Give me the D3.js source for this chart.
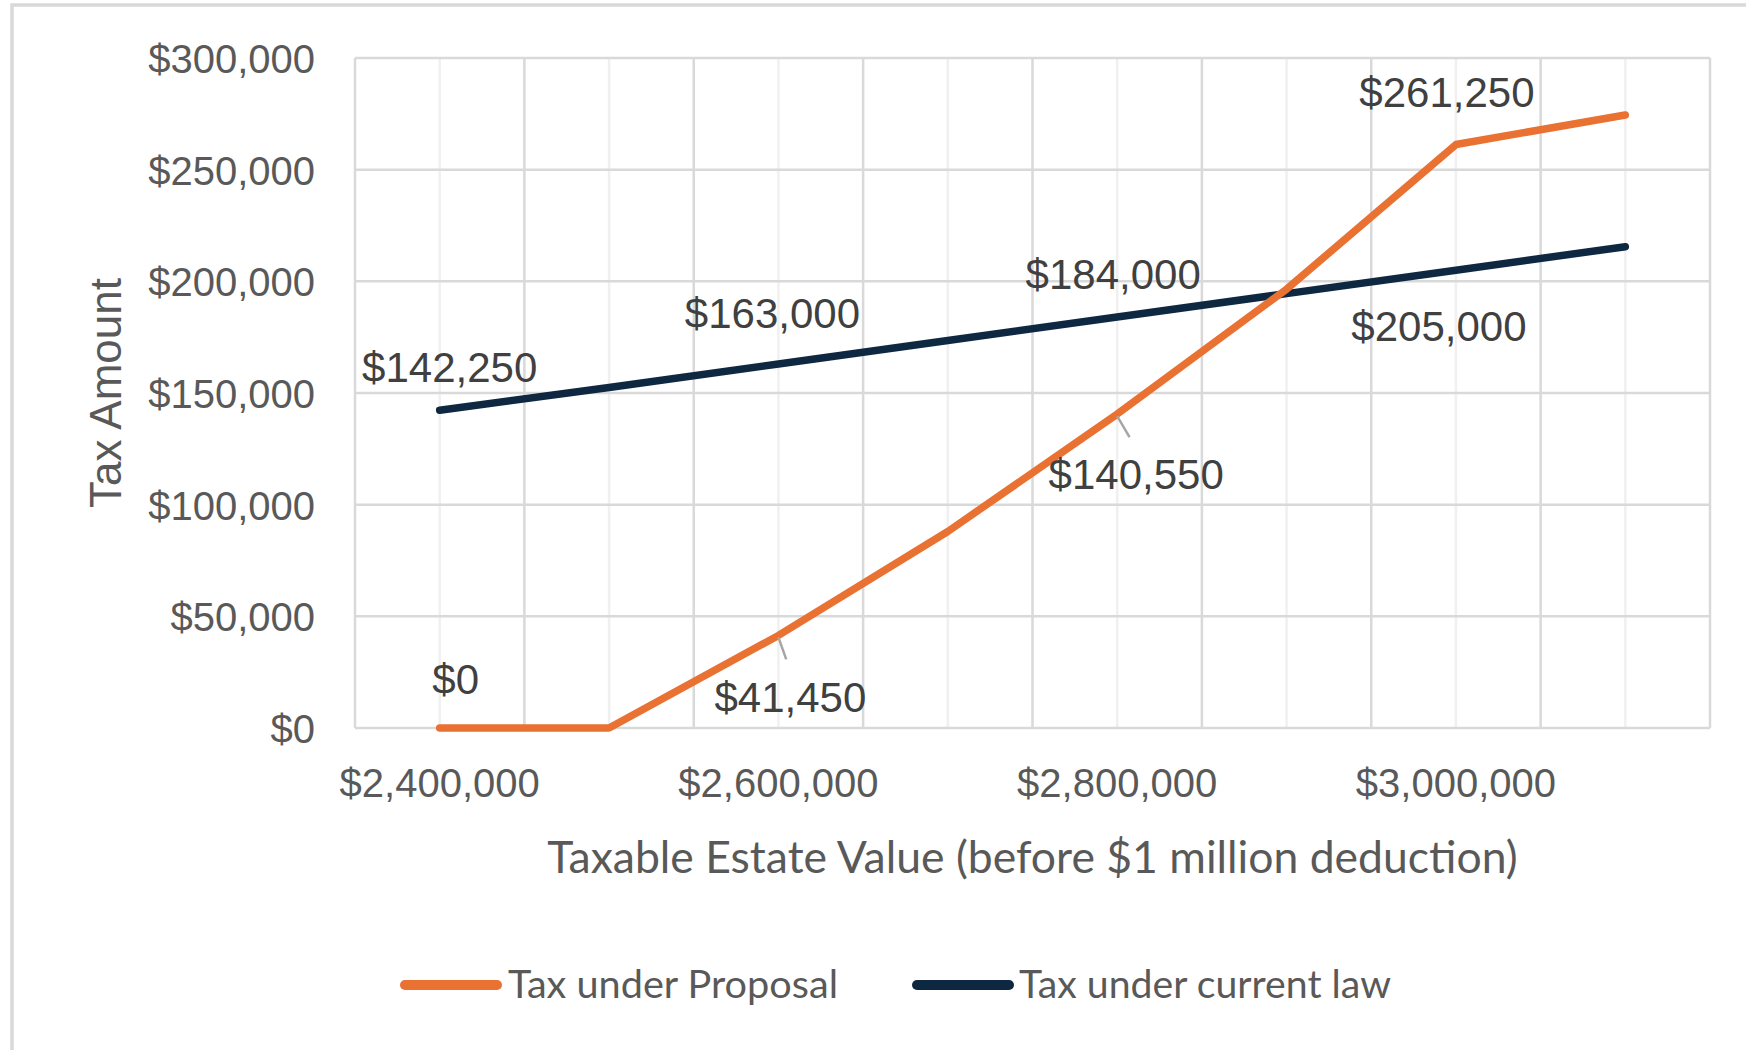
<!DOCTYPE html>
<html>
<head>
<meta charset="utf-8">
<script src="https://cdn.jsdelivr.net/npm/d3@7/dist/d3.min.js"></script>
<style>
  html, body { margin: 0; padding: 0; background: #ffffff; }
  svg { display: block; }
</style>
</head>
<body>
<svg id="chart" width="1746" height="1050"></svg>
<script>
// Estate values (categories on the x axis)
const estateValues = [2400000, 2500000, 2600000, 2700000, 2800000, 2900000, 3000000, 3100000];
// Tax owed under the proposal
const taxProposal = [0, 0, 41450, 88000, 140550, 196500, 261250, 274500];
// Tax owed under current law
const taxCurrent = [142250, 152500, 163000, 173500, 184000, 194500, 205000, 215500];
// Y axis tick values
const yTicks = [0, 50000, 100000, 150000, 200000, 250000, 300000];
// X axis labelled categories
const xLabelled = [2400000, 2600000, 2800000, 3000000];
// Series names
const seriesNames = ["Tax under Proposal", "Tax under current law"];
const seriesColors = ["#E97132", "#0E2841"];

// Data label placement: category index, label offset from the point, optional leader line
const proposalLabels = [
  { i: 0, dx: 16, dy: -49, leader: false },
  { i: 2, dx: 12, dy: 61, leader: true },
  { i: 4, dx: 19, dy: 60, leader: true },
  { i: 6, dx: -9, dy: -53, leader: false }
];
const currentLabels = [
  { i: 0, dx: 10, dy: -43, leader: false },
  { i: 2, dx: -6, dy: -51, leader: false },
  { i: 4, dx: -4, dy: -43, leader: false },
  { i: 6, dx: -17, dy: 56, leader: false }
];

const svg = d3.select("#chart");
const W = 1746, H = 1050;
const plot = { left: 355, right: 1710, top: 58, bottom: 728 };
const numFont = "'Liberation Sans', Arial, sans-serif";
const titleFont = "Lato, 'Open Sans', sans-serif";

svg.append("rect").attr("width", W).attr("height", H).attr("fill", "#ffffff");

// chart frame
svg.append("rect")
  .attr("x", 12).attr("y", 5)
  .attr("width", W + 20).attr("height", H + 20)
  .attr("fill", "none").attr("stroke", "#d9d9d9").attr("stroke-width", 3.5);

const x = d3.scaleBand()
  .domain(estateValues)
  .range([plot.left, plot.right])
  .padding(0);

const y = d3.scaleLinear()
  .domain([0, 300000])
  .range([plot.bottom, plot.top]);

const cx = d => x(d) + x.bandwidth() / 2;

// minor vertical gridlines at each category
const grid = svg.append("g");
grid.selectAll("line.minor")
  .data(estateValues)
  .join("line")
  .attr("class", "minor")
  .attr("x1", d => cx(d)).attr("x2", d => cx(d))
  .attr("y1", plot.top).attr("y2", plot.bottom)
  .attr("stroke", "#f0f0f0").attr("stroke-width", 2.5);

// major vertical gridlines between categories
const boundaries = estateValues.map(d => x(d)).concat([x.range()[1]]);
grid.selectAll("line.major")
  .data(boundaries)
  .join("line")
  .attr("class", "major")
  .attr("x1", d => d).attr("x2", d => d)
  .attr("y1", plot.top).attr("y2", plot.bottom)
  .attr("stroke", "#d9d9d9").attr("stroke-width", 2.5);

// horizontal gridlines
grid.selectAll("line.h")
  .data(yTicks)
  .join("line")
  .attr("class", "h")
  .attr("x1", plot.left).attr("x2", plot.right)
  .attr("y1", d => y(d)).attr("y2", d => y(d))
  .attr("stroke", "#d9d9d9").attr("stroke-width", 2.5);

// y axis
const fmt = d3.format("$,");
const yAxis = svg.append("g")
  .attr("transform", `translate(${plot.left - 40},0)`)
  .call(d3.axisLeft(y).tickValues(yTicks).tickFormat(fmt).tickSize(0).tickPadding(0));
yAxis.select(".domain").remove();
yAxis.selectAll("text")
  .attr("font-family", numFont).attr("font-size", 40).attr("fill", "#595959")
  .attr("dy", "0.36em");

// x axis
const xAxis = svg.append("g")
  .attr("transform", `translate(0,${plot.bottom})`)
  .call(d3.axisBottom(x).tickValues(xLabelled).tickFormat(fmt).tickSize(0).tickPadding(0));
xAxis.select(".domain").remove();
xAxis.selectAll("text")
  .attr("font-family", numFont).attr("font-size", 40).attr("fill", "#595959")
  .attr("dy", 0).attr("y", 69);

// axis titles
svg.append("text")
  .attr("transform", `translate(121,${(plot.top + plot.bottom) / 2}) rotate(-90)`)
  .attr("text-anchor", "middle")
  .attr("font-family", numFont).attr("font-size", 44).attr("fill", "#595959")
  .text("Tax Amount");

svg.append("text")
  .attr("x", (plot.left + plot.right) / 2).attr("y", 873)
  .attr("text-anchor", "middle")
  .attr("font-family", titleFont).attr("font-size", 44.5).attr("fill", "#595959")
  .text("Taxable Estate Value (before $1 million deduction)");

// lines
const line = d3.line()
  .x(d => cx(d[0]))
  .y(d => y(d[1]));

const series = [
  d3.zip(estateValues, taxProposal),
  d3.zip(estateValues, taxCurrent)
];

svg.append("g").selectAll("path")
  .data([series[1], series[0]])
  .join("path")
  .attr("d", line)
  .attr("fill", "none")
  .attr("stroke", (d, i) => i === 0 ? seriesColors[1] : seriesColors[0])
  .attr("stroke-width", 7.5)
  .attr("stroke-linecap", "round")
  .attr("stroke-linejoin", "round");

// data labels
function drawLabels(specs, values) {
  const g = svg.append("g");
  specs.forEach(s => {
    const px = cx(estateValues[s.i]);
    const py = y(values[s.i]);
    if (s.leader) {
      g.append("line")
        .attr("x1", px).attr("y1", py + 2)
        .attr("x2", px + s.dx * 0.65).attr("y2", py + s.dy - 37)
        .attr("stroke", "#a6a6a6").attr("stroke-width", 2.5);
    }
    g.append("text")
      .attr("x", px + s.dx).attr("y", py + s.dy)
      .attr("dy", "0.36em")
      .attr("text-anchor", "middle")
      .attr("font-family", numFont).attr("font-size", 42).attr("fill", "#404040")
      .text(fmt(values[s.i]));
  });
}
drawLabels(currentLabels, taxCurrent);
drawLabels(proposalLabels, taxProposal);

// legend
const legendItems = [
  { name: seriesNames[0], color: seriesColors[0], x0: 401, tx: 508, len: 330 },
  { name: seriesNames[1], color: seriesColors[1], x0: 913, tx: 1019, len: 372 }
];
const lg = svg.append("g");
legendItems.forEach(it => {
  lg.append("line")
    .attr("x1", it.x0 + 4).attr("x2", it.x0 + 96)
    .attr("y1", 985).attr("y2", 985)
    .attr("stroke", it.color).attr("stroke-width", 10).attr("stroke-linecap", "round");
  lg.append("text")
    .attr("x", it.tx).attr("y", 998)
    .attr("font-family", titleFont).attr("font-size", 38).attr("fill", "#595959")
    .attr("textLength", it.len).attr("lengthAdjust", "spacingAndGlyphs")
    .text(it.name);
});
</script>
</body>
</html>
